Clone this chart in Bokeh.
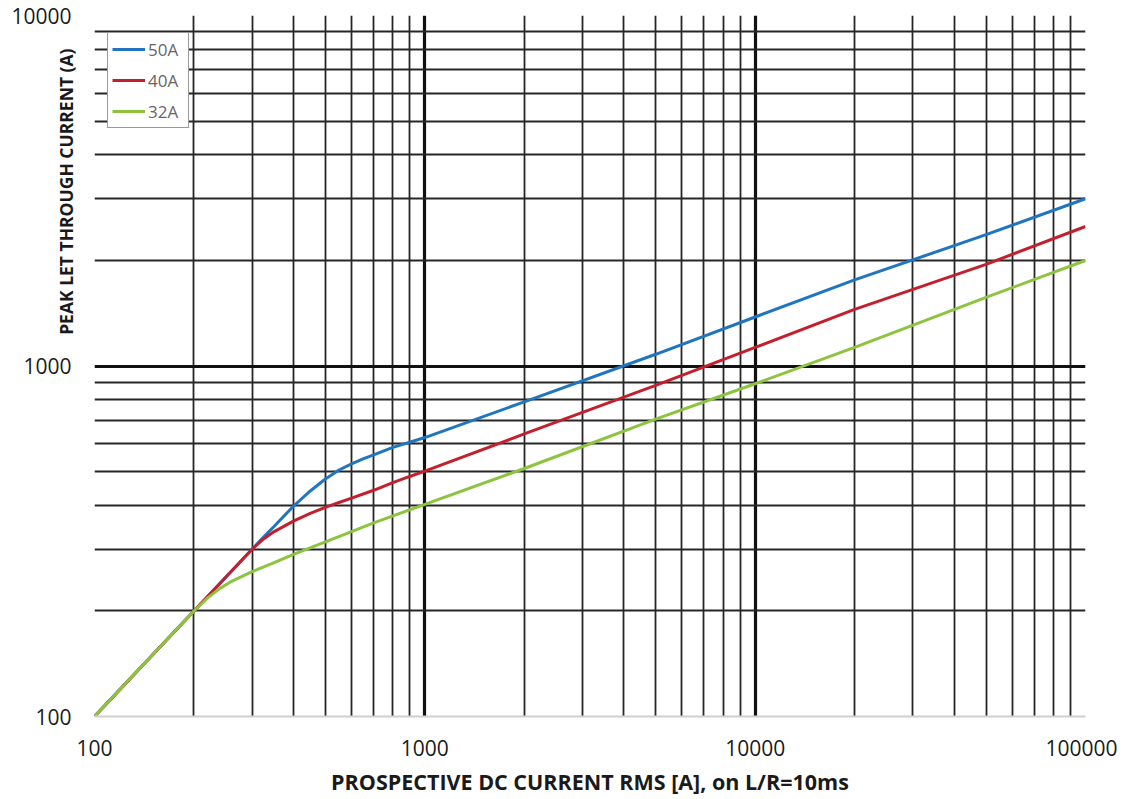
from bokeh.plotting import figure
from bokeh.models import (FixedTicker, CustomJSTickFormatter, Legend, LegendItem, Range1d,
                          Title, LogAxis)
from bokeh.embed import file_html
from bokeh.resources import INLINE

# ---- data ----
x_50 = [100, 150, 200, 250, 300, 325, 350, 400, 450, 500, 550, 600, 650, 700, 800, 900, 1000,
        2000, 5000, 10000, 20000, 50000, 100000]
y_50 = [100, 150, 200, 250, 300, 325, 349, 398, 440, 476, 505, 526, 543, 558, 586, 606, 625,
        790, 1080, 1380, 1760, 2370, 3000]

x_40 = [100, 150, 200, 250, 300, 325, 350, 400, 450, 500, 550, 600, 700, 800, 900, 1000,
        2000, 5000, 10000, 20000, 50000, 100000]
y_40 = [100, 150, 200, 250, 300, 321, 337, 361, 380, 395, 408, 420, 442, 465, 484, 501,
        640, 880, 1130, 1450, 1950, 2500]

x_32 = [100, 150, 200, 220, 240, 260, 300, 350, 400, 500, 600, 700, 1000,
        2000, 5000, 10000, 20000, 50000, 100000]
y_32 = [100, 150, 200, 218, 232, 243, 259, 275, 290, 315, 337, 357, 403,
        510, 705, 890, 1130, 1570, 2000]

series_names = ["50A", "40A", "32A"]
series_colors = ["#1f75bf", "#c3202e", "#8cc43f"]

x_major_ticks = [100, 1000, 10000, 100000]
x_minor_ticks = [m * d for d in [100, 1000, 10000] for m in range(2, 10)]
y_major_ticks = [100, 1000, 10000]
y_grid_major = [1000, 10000]
y_minor_ticks = [m * d for d in [100, 1000] for m in range(2, 10)]

x_title = "PROSPECTIVE DC CURRENT RMS [A], on L/R=10ms"
y_title = "PEAK LET THROUGH CURRENT (A)"

FONT = "Open Sans"

p = figure(width=1117, height=799, x_axis_type="log", y_axis_type="log",
           y_axis_location=None,
           x_range=Range1d(100, 100000), y_range=Range1d(100, 10000),
           output_backend="svg", toolbar_location=None,
           min_border_left=94, min_border_right=32, min_border_top=15, min_border_bottom=83)
p.outline_line_color = None
p.background_fill_color = "white"

# grids
p.xgrid.ticker = FixedTicker(ticks=x_major_ticks, minor_ticks=x_minor_ticks)
p.ygrid.ticker = FixedTicker(ticks=y_grid_major, minor_ticks=y_minor_ticks)
for g in (p.xgrid, p.ygrid):
    g.grid_line_color = "#111111"
    g.grid_line_width = 3.2
    g.minor_grid_line_color = "#262626"
    g.minor_grid_line_width = 1.8

fmt = CustomJSTickFormatter(code="return tick.toFixed(0);")

# y title sits next to the frame, the y axis (tick labels) outside of it
p.add_layout(Title(text=y_title, align="right", offset=33, vertical_align="middle", standoff=31,
                   text_font=FONT, text_font_style="bold", text_font_size="17.5px",
                   text_color="#1a1a1a"), "left")
yax = LogAxis(ticker=FixedTicker(ticks=y_major_ticks), formatter=fmt)
p.add_layout(yax, "left")

# x axis
p.xaxis.ticker = FixedTicker(ticks=x_major_ticks)
p.xaxis.formatter = fmt
for ax in (p.xaxis[0], yax):
    ax.major_tick_line_color = None
    ax.minor_tick_line_color = None
    ax.major_label_text_font = FONT
    ax.major_label_text_font_size = "21px"
    ax.major_label_text_color = "#1a1a1a"
p.xaxis.axis_line_color = "#d0d0d0"
p.xaxis.axis_line_width = 2
yax.axis_line_color = None
p.xaxis.major_label_standoff = 17
yax.major_label_standoff = -40
p.xaxis.axis_label = x_title
p.xaxis.axis_label_text_font = FONT
p.xaxis.axis_label_text_font_style = "bold"
p.xaxis.axis_label_text_color = "#1a1a1a"
p.xaxis.axis_label_text_font_size = "21.5px"
p.xaxis.axis_label_standoff = 8

# lines
renderers = []
for xs, ys, c in ((x_50, y_50, series_colors[0]), (x_40, y_40, series_colors[1]), (x_32, y_32, series_colors[2])):
    renderers.append(p.line(xs, ys, line_color=c, line_width=3))

legend = Legend(items=[LegendItem(label=n, renderers=[r]) for n, r in zip(series_names, renderers)],
                location=(13, 588))
legend.margin = 0
legend.padding = 4
legend.spacing = 7
legend.glyph_width = 33
legend.glyph_height = 24
legend.label_standoff = 3
legend.label_width = 36
legend.label_text_font = FONT
legend.label_text_font_size = "17px"
legend.label_text_color = "#666666"
legend.border_line_color = "#333333"
legend.border_line_width = 1.5
legend.background_fill_alpha = 1
p.add_layout(legend)

open("out.html", "w").write(file_html(p, INLINE))
